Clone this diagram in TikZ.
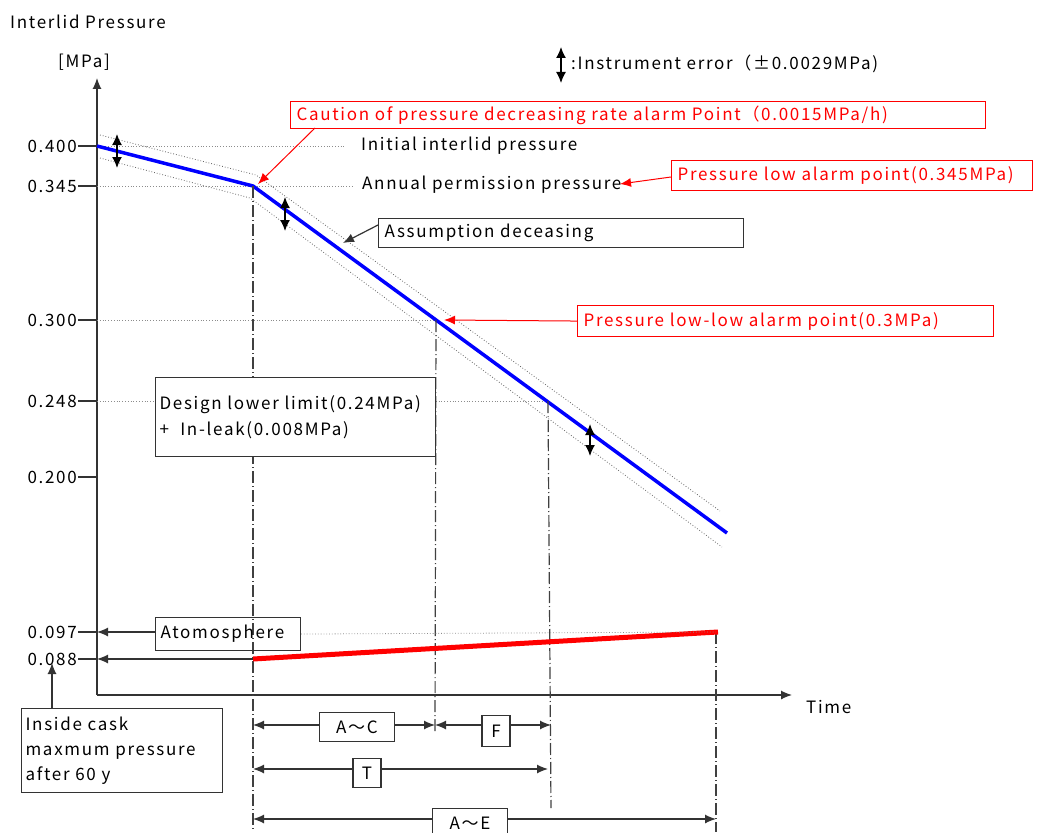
\documentclass[tikz,border=0pt]{standalone}
\usepackage{fontspec}
\setmainfont{Noto Sans CJK JP}[LetterSpace=10]
\usetikzlibrary{positioning, arrows.meta}
\definecolor{alarmred}{RGB}{255,0,0}
\definecolor{curveblue}{RGB}{0,0,255}
\tikzset{x=1pt, y=-1pt, >={Latex[length=11pt,width=9pt]},
  every node/.style={font=\fontsize{17}{26}\selectfont, inner sep=3pt},
  plain box/.style={draw=black!80, line width=1.1pt, fill=white, align=left, anchor=north west},
  alarm box/.style={draw=alarmred, line width=1.1pt, text=alarmred, fill=white, align=left, anchor=north west},
  guide/.style={dotted, black!45, line width=0.8pt},
  drop/.style={black!75, line width=1.2pt, dash pattern=on 12pt off 3pt on 1pt off 3pt},
  axis/.style={black!80, line width=1.2pt},
  err/.style={<->, line width=1.4pt, >={Latex[length=11pt,width=10pt]}},
  span/.style={<->, black!80, line width=1.2pt},
  alarm/.style={->, alarmred, line width=1pt}}

\begin{document}
\begin{tikzpicture}
	\useasboundingbox (0,0) rectangle (1062,832);

	% axes
	\coordinate (O) at (97,695);
	\draw[axis, ->] (O) -- (97,78);
	\draw[axis, ->] (O) -- (792,695);
	\node[anchor=west] (ytitle) at (7,22) {Interlid Pressure};
	\node (yunit) at (84,62) {[MPa]};
	\node[anchor=west] (time) at (803,707) {Time};

	% ticks and their guide lines
	\foreach \v/\y/\e in {400/146/345, 345/186/352, 300/320/437, 248/401/550, 200/477/97} {
		\node[anchor=east, inner sep=1pt] (t\v) at (78,\y) {0.\v};
		\draw[axis] (t\v.east) -- (97,\y);
		\draw[guide] (97,\y) -- (\e,\y);
	}
	\node[anchor=east, inner sep=1pt] (t097) at (78,632) {0.097};
	\node[anchor=east, inner sep=1pt] (t088) at (78,659) {0.088};
	\draw[axis] (t097.east) -- (97,632);
	\draw[axis] (t088.east) -- (97,659);

	% pressure curve with error band
	\coordinate (p0) at (97,146);
	\coordinate (p1) at (253,186);
	\coordinate (p2) at (727,533);
	\coordinate (p300) at (436,320);
	\coordinate (p248) at (548,401);
	\draw[guide, black!60] (100,135) -- (256,175) -- (720,511);
	\draw[guide, black!60] (100,158) -- (250,198) -- (722,547);
	\draw[curveblue, line width=3.5pt, line join=round] (p0) -- (p1) -- (p2);
	\draw[err] (117,134) -- (117,168);
	\draw[err] (285,197) -- (285,231);
	\draw[err] (590,424) -- (590,456);

	% time marks
	\coordinate (mA) at (253,832);
	\coordinate (mC) at (435,732);
	\coordinate (mT) at (551,808);
	\coordinate (mE) at (716,832);
	\draw[drop] (p1) -- (mA);
	\draw[drop] (p300) -- (mC);
	\draw[drop] (p248) -- (mT);
	\draw[drop] (716,632) -- (mE);

	% in-cask pressure
	\coordinate (q0) at (253,659);
	\coordinate (q1) at (718,632);
	\draw[alarmred, line width=5pt] (q0) -- (q1);

	% legend
	\draw[err] (561,47) -- (561,83);
	\node[anchor=west, inner sep=0pt] (legend) at (571,64) {:Instrument error（±0.0029MPa)};

	% notes
	\node (initial) [anchor=west, inner sep=0pt] at (361,146) {Initial interlid pressure};
	\node (annual) [anchor=west, inner sep=0pt] at (362,185) {Annual permission pressure};
	\node (caution) [alarm box, minimum width=695, minimum height=27, text width=683] at (290,101) {Caution of pressure decreasing rate alarm Point（0.0015MPa/h)};
	\node (lowalarm) [alarm box, minimum width=361, minimum height=30, text width=349] at (671,160) {Pressure low alarm point(0.345MPa)};
	\node (assume) [plain box, minimum width=365, minimum height=29, text width=353] at (378,218) {Assumption deceasing};
	\node (lowlow) [alarm box, minimum width=416, minimum height=31, text width=404] at (577,305) {Pressure low-low alarm point(0.3MPa)};
	\node (design) [plain box, minimum width=280, minimum height=79, text width=272, inner xsep=2pt] at (155,377) {Design lower limit(0.24MPa)\\+\ \ In-leak(0.008MPa)\\ };
	\node (atmo) [plain box, fill=none, minimum width=145, minimum height=33, text width=135, inner xsep=2pt] at (155,617) {Atomosphere};
	\node (cask) [plain box, minimum width=201, minimum height=84, text width=193, inner xsep=2pt, font=\fontsize{17}{25}\selectfont] at (21,708) {Inside cask\\maxmum pressure\\after 60 y};
	\draw[guide] (atmo.east) -- (716,632);

	\draw[alarm] (315,128) -- (258,184);
	\draw[alarm] (lowalarm.west |- 0,177) -- (620,184);
	\draw[alarm] (lowlow.west) -- (444,320);
	\draw[axis, ->] (assume.west |- 0,225) -- (343,243);
	\draw[axis, ->] (atmo.west |- 0,632) -- (97,632);
	\draw[axis, ->] (q0) -- (97,659);
	\draw[axis, ->] (52,708) -- (52,663);

	% periods
	\draw[span] (253,725) -- (435,725);
	\node[plain box, anchor=center, minimum width=75, minimum height=29] (AC) at (357,727) {A～C};
	\draw[span] (435,725) -- (551,725);
	\node[plain box, anchor=center, minimum width=28, minimum height=31, inner sep=1pt] (F) at (496,731) {F};
	\draw[span] (253,769) -- (548,769);
	\node[plain box, anchor=center, minimum width=28, minimum height=29, inner sep=1pt] (T) at (367,773) {T};
	\draw[span] (253,819) -- (716,819);
	\node[plain box, anchor=north, minimum width=75, minimum height=30] (AE) at (470,808) {A～E};
\end{tikzpicture}
\end{document}
